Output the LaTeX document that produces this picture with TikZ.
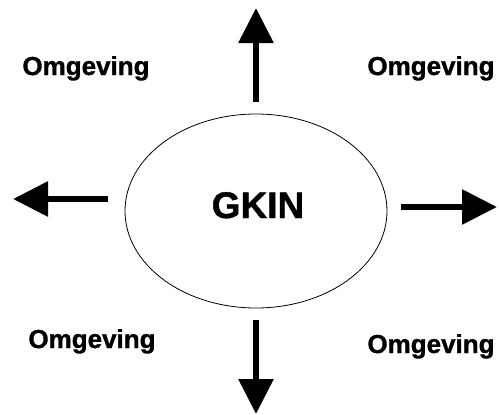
\documentclass[tikz,border=0pt]{standalone}
\usepackage{fontspec}
\setmainfont{Liberation Sans}
\newfontfamily\heavyfont[BoldFeatures={FakeBold=1.2}]{Liberation Sans}
\usetikzlibrary{arrows.meta,shapes.geometric}
\begin{document}
\begin{tikzpicture}[x=1pt,y=-1pt,
    label/.style={anchor=base,inner sep=0pt,font=\heavyfont\fontsize{26}{26}\selectfont\bfseries},
    arr/.style={line width=6pt,-{Triangle[length=35pt,width=34pt]}}]
  \useasboundingbox (0,0) rectangle (499,415);
  \node[draw,ellipse,line width=0.8pt,minimum width=262pt,minimum height=194pt,inner sep=0pt] (gkin) at (256,211) {};
  \node[anchor=base,inner sep=0pt,font=\heavyfont\fontsize{37}{37}\selectfont\bfseries] (name) at (258,218) {GKIN};
  \draw
    (86,75) node[label] (tl){Omgeving}
    (431,75) node[label] (tr){Omgeving}
    (92,348) node[label] (bl){Omgeving}
    (431,353) node[label] (br){Omgeving};
  \coordinate (up) at (256,8);
  \coordinate (left) at (13,199);
  \coordinate (right) at (497,207);
  \coordinate (down) at (256,414);
  \begin{scope}[arr]
    \draw[shorten <=12pt] (gkin.north) to (up);
    \draw[shorten <=17pt] (gkin.west |- left) to (left);
    \draw[shorten <=14pt] (gkin.east |- right) to (right);
    \draw[shorten <=12pt] (gkin.south) to (down);
  \end{scope}
\end{tikzpicture}
\end{document}
